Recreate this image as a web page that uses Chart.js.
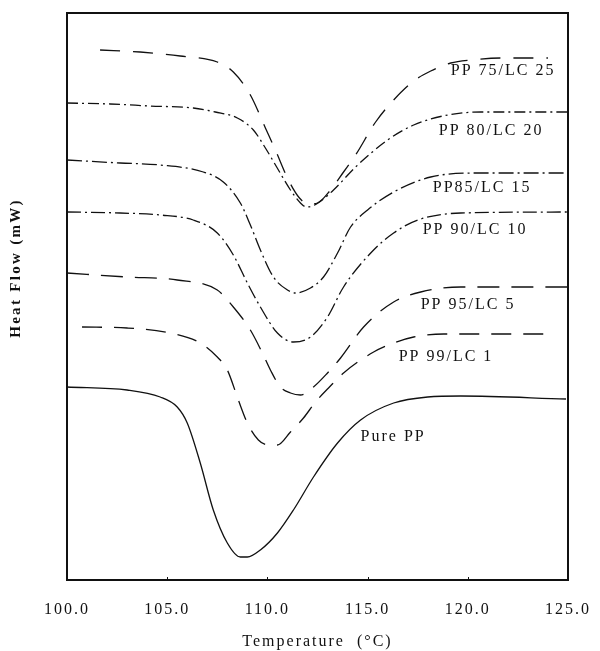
<!DOCTYPE html>
<html>
<head>
<meta charset="utf-8">
<script src="https://cdn.jsdelivr.net/npm/chart.js@4"></script>
<style>
  body { margin: 0; background: #fff; }
  canvas { display: block; }
</style>
</head>
<body>
<canvas id="dsc" width="600" height="651"></canvas>
<script>
// DSC cooling curves, PP / LC blends (heat flow in arbitrary offset units)
const xTicks = [100, 105, 110, 115, 120, 125];
const seriesNames = ['PP 75/LC 25', 'PP 80/LC 20', 'PP85/LC 15', 'PP 90/LC 10', 'PP 95/LC 5', 'PP 99/LC 1', 'Pure PP'];

const tPP75 = [101.65, 103.65, 105.65, 107.5, 108.3, 109.15, 109.9, 110.4, 111.05, 111.6, 112.05, 112.5, 113.15, 113.8, 114.4, 115.4, 116.3, 117.3, 118.15, 119.15, 120.15, 121.65, 124.0];
const hPP75 = [530, 528, 524, 518, 508, 485, 452, 430, 400, 382, 376, 377, 390, 408, 425, 458, 480, 499, 509, 517, 520, 522, 522];

const tPP80 = [100, 102.15, 104.15, 106.3, 107.4, 108.5, 109.3, 109.9, 110.55, 111.15, 111.65, 111.95, 112.45, 113.3, 114.4, 116.0, 117.3, 119.0, 120.65, 125];
const hPP80 = [477, 476, 474, 472, 468, 462, 450, 432, 410, 390, 377, 373, 376, 390, 413, 440, 455, 465, 468, 468];

const tPP85 = [100, 102.65, 104.65, 106.8, 107.8, 108.65, 109.15, 109.65, 110.3, 111.0, 111.4, 112.15, 112.8, 113.5, 114.15, 115.0, 116.3, 118.15, 120.65, 125];
const hPP85 = [420, 417, 415, 408, 398, 377, 355, 330, 303, 290, 287, 292, 303, 327, 353, 370, 388, 403, 407, 407];

const tPP90 = [100, 102.65, 104.65, 106.3, 107.5, 108.3, 109.0, 109.65, 110.5, 111.3, 112.15, 113.0, 113.8, 115.3, 116.3, 117.5, 119.65, 125];
const hPP90 = [368, 367, 365, 360, 347, 325, 297, 273, 247, 238, 243, 263, 293, 330, 347, 360, 367, 368];

const tPP95 = [100, 103, 105.5, 107.5, 108.3, 109.15, 109.75, 110.15, 110.65, 111.15, 111.65, 112.3, 113.0, 113.65, 114.8, 116.3, 117.65, 119.65, 125];
const hPP95 = [307, 303, 300, 290, 273, 250, 227, 210, 193, 187, 185, 193, 207, 222, 253, 278, 288, 293, 293];

const tPP99 = [100.75, 103, 105.15, 106.65, 107.5, 108.0, 108.55, 109.0, 109.55, 110.05, 110.5, 111.15, 111.8, 112.4, 113.05, 113.8, 115.3, 116.3, 117.3, 118.8, 124.05];
const hPP99 = [253, 252, 247, 237, 223, 210, 180, 157, 140, 135, 135, 148, 162, 178, 192, 207, 228, 237, 243, 246, 246];

const tPure = [100, 103, 104.65, 105.5, 106.0, 106.65, 107.3, 108.0, 108.65, 109.0, 109.65, 110.5, 111.3, 112.3, 113.5, 114.65, 116.3, 118.0, 119.65, 124.9];
const hPure = [193, 190, 183, 173, 157, 117, 70, 37, 23, 23, 30, 47, 70, 103, 137, 160, 177, 183, 184, 181];

// label anchors (temperature, heat flow) for the curve names
const labelT = [119.15, 118.55, 118.25, 117.75, 117.65, 116.55, 114.65];
const labelH = [509, 449, 392, 350, 275, 223, 143];

const allT = [tPP75, tPP80, tPP85, tPP90, tPP95, tPP99, tPure];
const allH = [hPP75, hPP80, hPP85, hPP90, hPP95, hPP99, hPure];
const dashes = [[20, 13], [11, 4, 2, 4], [15, 4, 2, 4], [14, 4, 2, 4], [22, 12], [20, 12], []];

const ink = '#111';
const serif = 'Liberation Serif';

const datasets = seriesNames.map((name, i) => ({
  label: name,
  data: allT[i].map((t, j) => ({ x: t, y: allH[i][j] })),
  borderColor: ink,
  borderWidth: 1.3,
  borderDash: dashes[i],
  pointRadius: 0,
  fill: false,
  cubicInterpolationMode: 'monotone'
}));

const spacing = {
  id: 'spacing',
  beforeUpdate(chart) { chart.ctx.letterSpacing = '2px'; },
  beforeDraw(chart) { chart.ctx.letterSpacing = '2px'; }
};

const frameAndText = {
  id: 'frameAndText',
  afterDraw(chart) {
    const { ctx, chartArea: a, scales: { x, y } } = chart;
    ctx.save();
    ctx.letterSpacing = '0px';
    ctx.strokeStyle = ink;
    ctx.lineWidth = 2;
    ctx.strokeRect(a.left, a.top, a.right - a.left, a.bottom - a.top);

    // small inward tick marks on the temperature axis
    ctx.lineWidth = 1;
    xTicks.slice(1, -1).forEach(v => {
      const px = Math.round(x.getPixelForValue(v)) + 0.5;
      ctx.beginPath();
      ctx.moveTo(px, a.bottom);
      ctx.lineTo(px, a.bottom - 3);
      ctx.stroke();
    });

    // curve names
    ctx.fillStyle = ink;
    ctx.font = '16px "' + serif + '"';
    ctx.letterSpacing = '2px';
    ctx.textAlign = 'left';
    ctx.textBaseline = 'middle';
    seriesNames.forEach((name, i) => {
      ctx.fillText(name, x.getPixelForValue(labelT[i]), y.getPixelForValue(labelH[i]));
    });

    // y title
    ctx.translate(16, 268);
    ctx.rotate(-Math.PI / 2);
    ctx.textAlign = 'center';
    ctx.font = 'bold 15px "' + serif + '"';
    ctx.letterSpacing = '2.3px';
    ctx.fillText('Heat Flow (mW)', 0, 0);
    ctx.restore();
  }
};

new Chart(document.getElementById('dsc'), {
  type: 'line',
  data: { datasets },
  options: {
    responsive: false,
    animation: false,
    layout: { padding: { top: 13, right: 32, left: 0, bottom: 0 } },
    plugins: { legend: { display: false }, tooltip: { enabled: false } },
    scales: {
      x: {
        type: 'linear',
        min: 100,
        max: 125,
        afterBuildTicks: s => { s.ticks = xTicks.map(v => ({ value: v })); },
        ticks: {
          callback: v => Number(v).toFixed(1),
          font: { family: serif, size: 16 },
          color: ink,
          padding: 0,
          maxRotation: 0,
          autoSkip: false
        },
        // invisible tick marks only push the labels down
        grid: { display: true, drawOnChartArea: false, drawTicks: true, tickLength: 20, color: 'rgba(0,0,0,0)' },
        border: { display: false },
        title: {
          display: true,
          text: 'Temperature  (°C)',
          font: { family: serif, size: 16 },
          color: ink,
          padding: { top: 0, bottom: 0 }
        },
        afterFit: s => { s.height = 71; }
      },
      y: {
        min: 0,
        max: 567,
        ticks: { display: false },
        grid: { display: false, drawTicks: false },
        border: { display: false },
        afterFit: s => { s.width = 67; }
      }
    }
  },
  plugins: [spacing, frameAndText]
});
</script>
</body>
</html>
